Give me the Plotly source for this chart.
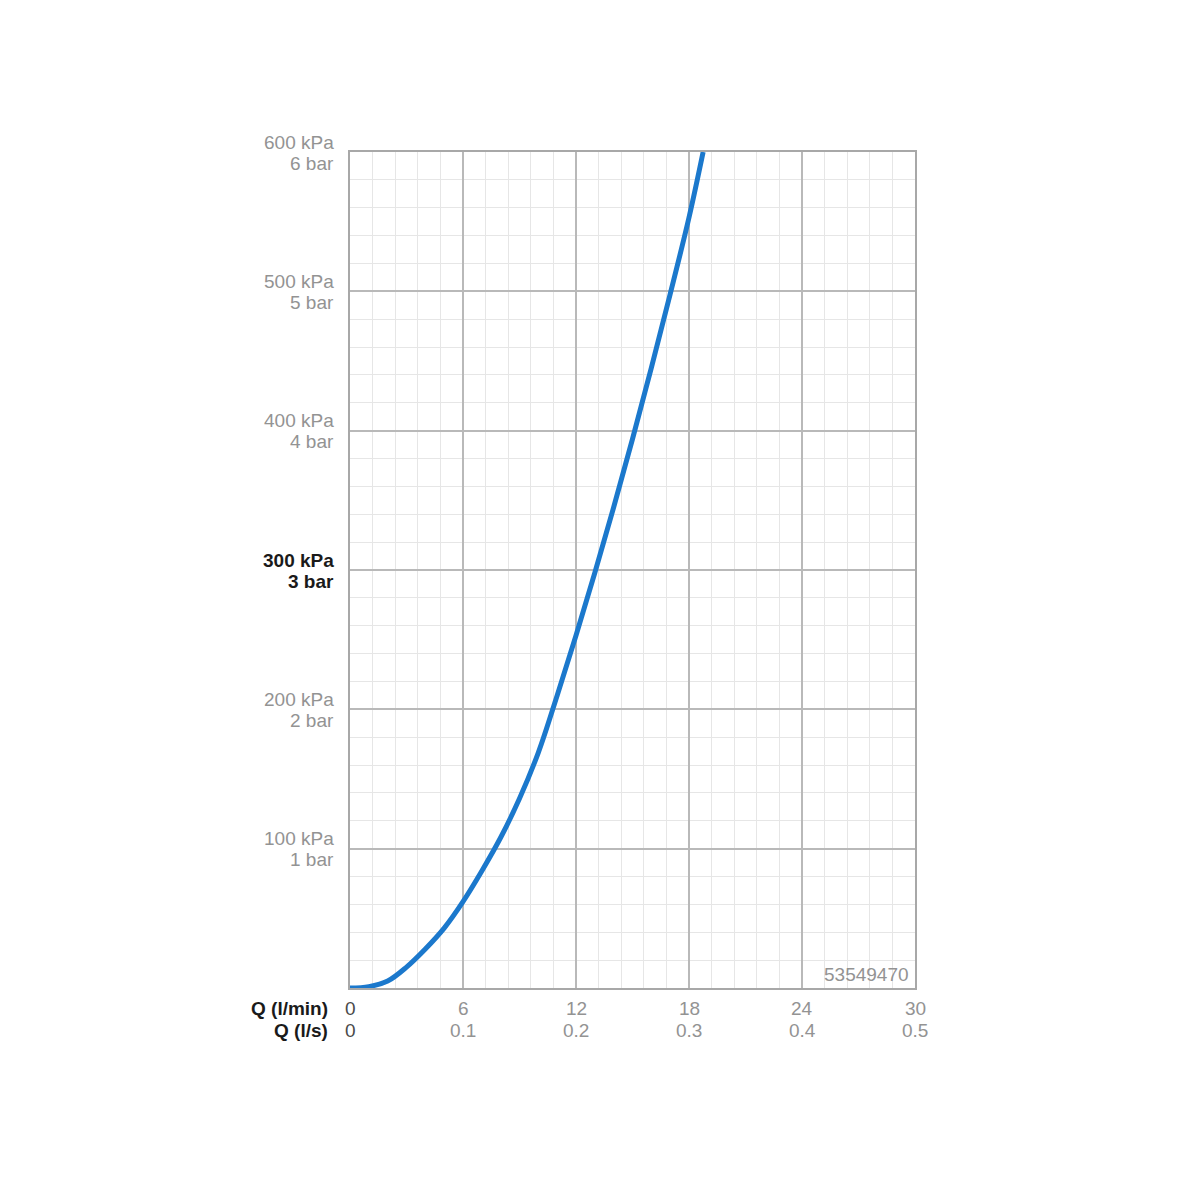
import plotly.graph_objects as go

# Flow rate (l/min) and pressure (kPa)
flow_lpm = [0, 1, 2, 3, 4, 5, 6, 7, 8, 9, 10, 11, 12, 13, 14, 15, 16, 17, 18, 18.75]
pressure_kpa = [0, 1, 5, 15, 28, 43, 62, 84, 108, 136, 169, 210, 253, 298, 345, 394, 445, 498, 553, 600]

x_tick_vals = [0, 6, 12, 18, 24, 30]
x_tick_lps = ["0", "0.1", "0.2", "0.3", "0.4", "0.5"]
y_tick_vals = [100, 200, 300, 400, 500, 600]
y_tick_kpa = ["100 kPa", "200 kPa", "300 kPa", "400 kPa", "500 kPa", "600 kPa"]
y_tick_bar = ["1 bar", "2 bar", "3 bar", "4 bar", "5 bar", "6 bar"]
highlight_kpa = 300
product_code = "53549470"

FONT = "Liberation Sans, Arial, sans-serif"
FS = 19
GRAY = "#939393"
DARK = "#1a1a1a"
ZERO = "#4a4a4a"

fig = go.Figure()
fig.add_trace(go.Scatter(
    x=flow_lpm, y=pressure_kpa, mode="lines",
    line=dict(color="#1b78cc", width=5, shape="spline", smoothing=1.0),
    hoverinfo="skip", showlegend=False,
))

fig.update_layout(
    width=1200, height=1200,
    margin=dict(l=342, r=293, t=144, b=220),
    paper_bgcolor="white", plot_bgcolor="white",
    font=dict(family=FONT, size=FS, color=GRAY),
    xaxis=dict(
        range=[0, 30], tickvals=x_tick_vals, showticklabels=False,
        showgrid=True, gridcolor="#b9b9b9", gridwidth=1.5,
        minor=dict(dtick=1.2, showgrid=True, gridcolor="#e6e6e6", gridwidth=1),
        showline=True, linecolor="#a8a8a8", linewidth=2, mirror=True,
        ticks="", zeroline=False,
    ),
    yaxis=dict(
        range=[0, 600], tickvals=y_tick_vals, showticklabels=False,
        showgrid=True, gridcolor="#b9b9b9", gridwidth=1.5,
        minor=dict(dtick=20, showgrid=True, gridcolor="#e6e6e6", gridwidth=1),
        showline=True, linecolor="#a8a8a8", linewidth=2, mirror=True,
        ticks="", zeroline=False,
    ),
)

# Y tick labels (two lines each)
for v, k, b in zip(y_tick_vals, y_tick_kpa, y_tick_bar):
    bold = v == highlight_kpa
    col = DARK if bold else GRAY
    for txt, shift in ((k, 10), (b, -11)):
        fig.add_annotation(xref="paper", yref="y", x=0, y=v, xshift=-14, yshift=shift,
                           xanchor="right", yanchor="middle", showarrow=False,
                           text=f"<b>{txt}</b>" if bold else txt,
                           font=dict(family=FONT, size=FS, color=col))

# X tick labels (l/min and l/s rows)
for v, lps in zip(x_tick_vals, x_tick_lps):
    col = ZERO if v == 0 else GRAY
    fig.add_annotation(xref="x", yref="paper", x=v, y=0, yshift=-20,
                       xanchor="center", yanchor="middle", showarrow=False,
                       text=str(v), font=dict(family=FONT, size=FS, color=col))
    fig.add_annotation(xref="x", yref="paper", x=v, y=0, yshift=-42,
                       xanchor="center", yanchor="middle", showarrow=False,
                       text=lps, font=dict(family=FONT, size=FS, color=col))

fig.add_annotation(xref="paper", yref="paper", x=0, y=0, xshift=-20, yshift=-20,
                   xanchor="right", yanchor="middle", showarrow=False,
                   text="<b>Q (l/min)</b>", font=dict(family=FONT, size=FS, color=DARK))
fig.add_annotation(xref="paper", yref="paper", x=0, y=0, xshift=-20, yshift=-42,
                   xanchor="right", yanchor="middle", showarrow=False,
                   text="<b>Q (l/s)</b>", font=dict(family=FONT, size=FS, color=DARK))
fig.add_annotation(xref="paper", yref="paper", x=1, y=0, xshift=-4, yshift=14,
                   xanchor="right", yanchor="middle", showarrow=False,
                   text=product_code, font=dict(family=FONT, size=FS, color=GRAY))

fig.write_html("out.html")
